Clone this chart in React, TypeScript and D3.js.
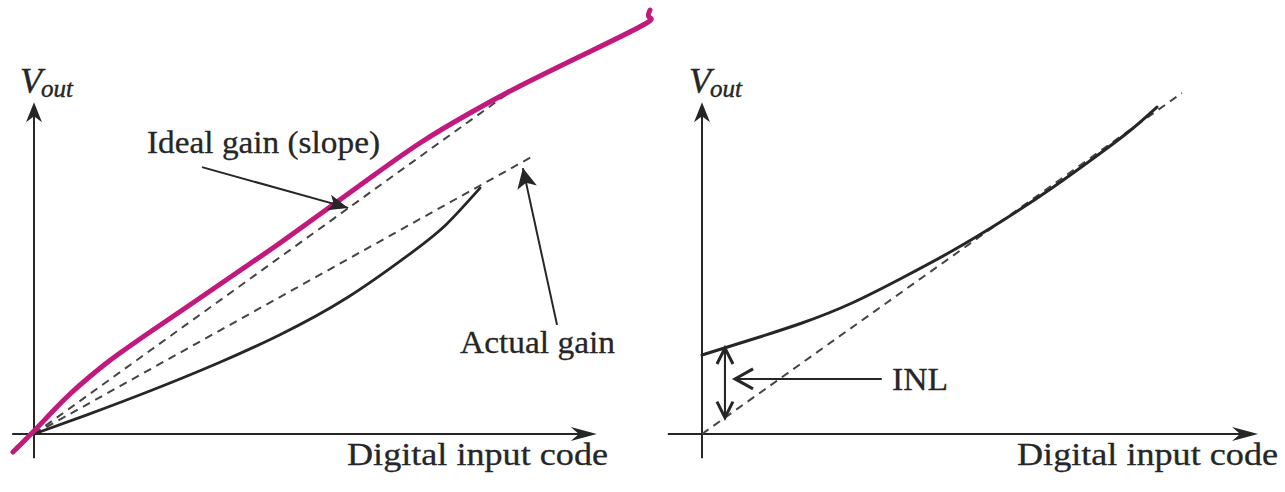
import React from 'react';
import * as d3 from 'd3';

const W = 1285;
const H = 492;

// ---------- Left panel: gain error (arbitrary code / voltage units) ----------
const magentaX = [-3.75, 0, 3.39, 6.43, 9.46, 12.5, 15.36, 21.25, 29.11, 36.79, 43.93, 51.61, 60.0, 68.93, 77.86, 86.79, 98.75, 109.11, 109.82, 110.0];
const magentaY = [-5.29, 0.88, 6.76, 11.76, 16.18, 20.29, 23.82, 30.59, 39.41, 48.09, 56.18, 65.29, 75.29, 85.59, 94.41, 102.35, 112.06, 120.59, 122.65, 124.71];

const actualCurveX = [0, 9.46, 21.25, 33.21, 43.93, 55.89, 67.68, 73.75, 79.64];
const actualCurveY = [0, 5.62, 13.0, 21.09, 29.21, 40.06, 53.65, 61.85, 72.32];

const idealLineX = [0, 85.5];
const idealLineY = [0, 101.2];
const actualLineX = [0, 89.5];
const actualLineY = [0, 82.1];

// ---------- Right panel: INL ----------
const inlCurveX = [0, 8.57, 17.86, 26.79, 35.71, 44.64, 53.57, 62.5, 71.43, 76.79, 81.25];
const inlCurveY = [23.24, 27.65, 32.65, 38.53, 45.88, 53.82, 62.65, 72.35, 82.94, 89.71, 96.18];
const inlLineX = [0, 85.7];
const inlLineY = [0, 100.3];

// annotation anchors (data units)
const idealArrow = [[30.0, 78.5], [56.1, 66.5]];
const actualArrow = [[93.4, 32.1], [87.3, 78.2]];
const inlDouble = [[4.1, 25.3], [4.1, 4.8]];
const inlArrow = [[32.1, 16.2], [5.9, 16.2]];

// labels
const xAxisLabel = 'Digital input code';
const yAxisMain = 'V';
const yAxisSub = 'out';
const idealLabel = 'Ideal gain (slope)';
const actualLabel = 'Actual gain';
const inlLabel = 'INL';

const zip = (xs: number[], ys: number[]) => xs.map((x, i) => [x, ys[i]] as [number, number]);

const INK = '#262626';
const DASH = '#444';
const MAGENTA = '#c2197d';
const FONT = "'Liberation Serif', serif";

function headPath(x0: number, y0: number, x1: number, y1: number, len: number, hw: number, notch: number) {
  const a = Math.atan2(y1 - y0, x1 - x0);
  const c = Math.cos(a), s = Math.sin(a);
  const bx = x1 - len * c, by = y1 - len * s;
  const lx = bx - hw * s, ly = by + hw * c;
  const rx = bx + hw * s, ry = by - hw * c;
  const nx = x1 - (len - notch) * c, ny = y1 - (len - notch) * s;
  return `M${x1},${y1}L${lx},${ly}L${nx},${ny}L${rx},${ry}Z`;
}

function openHead(x0: number, y0: number, x1: number, y1: number, len: number, hw: number) {
  const a = Math.atan2(y1 - y0, x1 - x0);
  const c = Math.cos(a), s = Math.sin(a);
  const bx = x1 - len * c, by = y1 - len * s;
  return `M${bx - hw * s},${by + hw * c}L${x1},${y1}L${bx + hw * s},${by - hw * c}`;
}

const txtStyle = { fontFamily: FONT } as React.CSSProperties;

export default function App() {
  const yS = d3.scaleLinear().domain([0, 100]).range([434, 94]);
  const xL = d3.scaleLinear().domain([0, 100]).range([34, 594]);
  const xR = d3.scaleLinear().domain([0, 100]).range([702, 1262]);

  const lineL = d3.line<[number, number]>().x(d => xL(d[0])).y(d => yS(d[1])).curve(d3.curveNatural);
  const lineR = d3.line<[number, number]>().x(d => xR(d[0])).y(d => yS(d[1])).curve(d3.curveNatural);
  const straightL = d3.line<[number, number]>().x(d => xL(d[0])).y(d => yS(d[1]));
  const straightR = d3.line<[number, number]>().x(d => xR(d[0])).y(d => yS(d[1]));

  const axes = (xs: d3.ScaleLinear<number, number>, xMin: number, xMax: number) => {
    const ox = xs(0), oy = yS(0);
    const xa0 = xs(xMin), xa1 = xs(xMax);
    const ya0 = yS(-7.1), ya1 = yS(97.6);
    return (
      <g>
        <line x1={xa0} y1={oy} x2={xa1 - 4} y2={oy} stroke={INK} strokeWidth={2} />
        <path d={headPath(xa0, oy, xa1, oy, 26, 7, 8)} fill={INK} />
        <line x1={ox} y1={ya0} x2={ox} y2={ya1 + 4} stroke={INK} strokeWidth={2} />
        <path d={headPath(ox, ya0, ox, ya1, 20, 8, 6)} fill={INK} />
      </g>
    );
  };

  const vout = (x: number) => (
    <text x={x} y={93} style={txtStyle} fill={INK} stroke={INK} strokeWidth={0.4} fontStyle="italic">
      <tspan fontSize={36}>{yAxisMain}</tspan>
      <tspan fontSize={25} dx={-1} dy={4}>{yAxisSub}</tspan>
    </text>
  );

  const arrowLine = (pts: number[][], xs: d3.ScaleLinear<number, number>, filled: boolean, len = 18, hw = 8) => {
    const x0 = xs(pts[0][0]), y0 = yS(pts[0][1]);
    const x1 = xs(pts[1][0]), y1 = yS(pts[1][1]);
    return (
      <g>
        <line x1={x0} y1={y0} x2={x1} y2={y1} stroke={INK} strokeWidth={2} />
        {filled ? (
          <path d={headPath(x0, y0, x1, y1, len, hw, 5)} fill={INK} />
        ) : (
          <path d={openHead(x0, y0, x1, y1, len, hw)} fill="none" stroke={INK} strokeWidth={3} strokeLinejoin="miter" />
        )}
      </g>
    );
  };

  const label = (x: number, y: number, size: number, len: number, s: string) => (
    <text x={x} y={y} style={txtStyle} fontSize={size} fill={INK} stroke={INK} strokeWidth={0.3}
      textLength={len} lengthAdjust="spacingAndGlyphs">{s}</text>
  );

  return (
    <svg width={W} height={H} style={{ position: 'absolute', left: 0, top: 0, background: '#fff' }}>
      <rect width={W} height={H} fill="#fff" />

      {/* ---------- Left panel ---------- */}
      {axes(xL, -3.9, 100.5)}
      {vout(20)}
      {label(347, 465, 32, 261, xAxisLabel)}

      <path d={straightL(zip(idealLineX, idealLineY)) || ''} fill="none" stroke={DASH} strokeWidth={2} strokeDasharray="8 6" />
      <path d={straightL(zip(actualLineX, actualLineY)) || ''} fill="none" stroke={DASH} strokeWidth={2} strokeDasharray="8 6" />
      <path d={lineL(zip(actualCurveX, actualCurveY)) || ''} fill="none" stroke={INK} strokeWidth={2.8} strokeLinecap="round" />
      <path d={lineL(zip(magentaX, magentaY)) || ''} fill="none" stroke={MAGENTA} strokeWidth={5} strokeLinecap="round" strokeLinejoin="round" />

      {arrowLine(idealArrow, xL, true, 20, 8)}
      {arrowLine(actualArrow, xL, true, 20, 10)}

      {label(147, 153, 32, 233, idealLabel)}
      {label(460, 353, 32, 155, actualLabel)}

      {/* ---------- Right panel ---------- */}
      {axes(xR, -6.1, 99.3)}
      {vout(689)}
      {label(1017, 465, 32, 261, xAxisLabel)}

      <path d={straightR(zip(inlLineX, inlLineY)) || ''} fill="none" stroke={DASH} strokeWidth={2} strokeDasharray="8 6" />
      <path d={lineR(zip(inlCurveX, inlCurveY)) || ''} fill="none" stroke={INK} strokeWidth={3} strokeLinecap="round" />

      {arrowLine(inlDouble, xR, false, 16, 8)}
      {arrowLine([inlDouble[1], inlDouble[0]], xR, false, 16, 8)}
      {arrowLine(inlArrow, xR, false, 18, 10)}

      {label(892, 390, 32, 56, inlLabel)}
    </svg>
  );
}
